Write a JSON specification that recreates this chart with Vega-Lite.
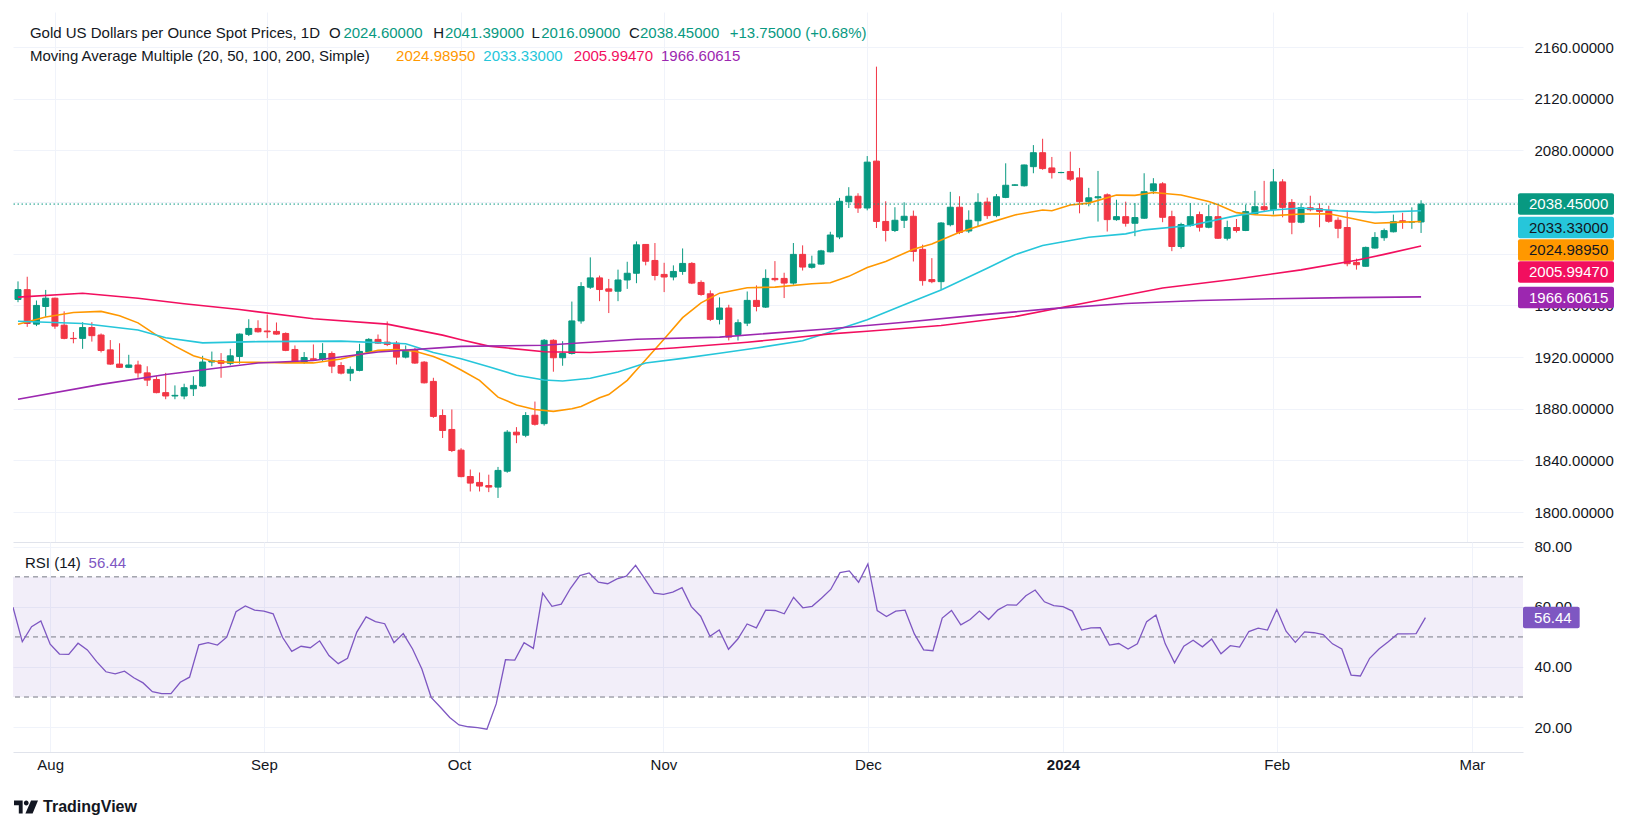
{
"$schema": "https://vega.github.io/schema/vega-lite/v6.json",
"background": "white",
"padding": {"left": 12, "top": 12, "right": 5, "bottom": 2},
"bounds": "flush",
"spacing": 0,
"config": {
  "view": {"stroke": null},
  "font": "Liberation Sans",
  "text": {"font": "Liberation Sans", "fontSize": 15},
  "axis": {"labelFont": "Liberation Sans", "labelFontSize": 15, "labelColor": "#131722", "gridColor": "#F0F3FA", "gridWidth": 1, "ticks": false, "domain": false, "zindex": 0}
},
"data": {"values": [
{"date":"2023-07-26","open":1964.6,"high":1978.6,"low":1962.5,"close":1972.2,"rsi":59.9,"sma20":1945.5,"sma50":1947.8,"sma100":1966.4,"sma200":1887.4},
{"date":"2023-07-27","open":1972.2,"high":1982.2,"low":1943.4,"close":1946,"rsi":48.4},
{"date":"2023-07-28","open":1945.5,"high":1963.8,"low":1944,"close":1960,"rsi":53.4},
{"date":"2023-07-31","open":1959.2,"high":1972,"low":1951.1,"close":1965.6,"rsi":55.3,"sma20":1951},
{"date":"2023-08-01","open":1965.6,"high":1966,"low":1941.9,"close":1944,"rsi":47.6},
{"date":"2023-08-02","open":1944.7,"high":1955.4,"low":1933.8,"close":1934.5,"rsi":44.3},
{"date":"2023-08-03","open":1934.5,"high":1939.4,"low":1930.7,"close":1934.3,"rsi":44.2,"sma20":1954.5},
{"date":"2023-08-04","open":1934.5,"high":1947,"low":1926.4,"close":1942.9,"rsi":47.9,"sma50":1946,"sma100":1969.4},
{"date":"2023-08-07","open":1942.9,"high":1947,"low":1932,"close":1936.6,"rsi":45.7},
{"date":"2023-08-08","open":1937.1,"high":1938.3,"low":1923.6,"close":1925.1,"rsi":41.8,"sma20":1955.4,"sma200":1898.9},
{"date":"2023-08-09","open":1925.6,"high":1933.2,"low":1914,"close":1914.6,"rsi":38.4},
{"date":"2023-08-10","open":1914.6,"high":1930.7,"low":1911.6,"close":1912.1,"rsi":37.7,"sma20":1952},
{"date":"2023-08-11","open":1912.1,"high":1921.8,"low":1911.5,"close":1913.9,"rsi":38.6},
{"date":"2023-08-14","open":1913.9,"high":1917.2,"low":1904,"close":1907.8,"rsi":36.4,"sma20":1946.5,"sma50":1941,"sma100":1965.6},
{"date":"2023-08-15","open":1907.8,"high":1912.9,"low":1897.6,"close":1902.2,"rsi":34.7},
{"date":"2023-08-16","open":1902.7,"high":1905.2,"low":1892,"close":1892.5,"rsi":31.8,"sma20":1937},
{"date":"2023-08-17","open":1892.5,"high":1907.8,"low":1887.4,"close":1889.9,"rsi":31.1,"sma50":1935,"sma200":1906.5},
{"date":"2023-08-18","open":1889.9,"high":1898.1,"low":1887.4,"close":1890.4,"rsi":31.1,"sma20":1928.5},
{"date":"2023-08-21","open":1889.9,"high":1899.4,"low":1887.4,"close":1896.3,"rsi":34.9,"sma100":1961.3},
{"date":"2023-08-22","open":1895.5,"high":1905.2,"low":1889.9,"close":1898.1,"rsi":36.6,"sma20":1921},
{"date":"2023-08-23","open":1897.6,"high":1921,"low":1897,"close":1916.2,"rsi":47.4,"sma50":1931},
{"date":"2023-08-24","open":1916.2,"high":1924.3,"low":1912.9,"close":1917.2,"rsi":48.1,"sma20":1917},
{"date":"2023-08-25","open":1917.2,"high":1923.1,"low":1904,"close":1915.2,"rsi":47.3},
{"date":"2023-08-28","open":1915.2,"high":1926.4,"low":1913.6,"close":1921,"rsi":49.9,"sma20":1916},
{"date":"2023-08-29","open":1920.5,"high":1938.3,"low":1914.9,"close":1937.8,"rsi":58.4,"sma100":1956.8},
{"date":"2023-08-30","open":1937.6,"high":1949.3,"low":1936.3,"close":1942.2,"rsi":60.3},
{"date":"2023-08-31","open":1942.2,"high":1948.5,"low":1939,"close":1939.6,"rsi":58.9,"sma20":1916,"sma50":1932,"sma200":1915.4},
{"date":"2023-09-01","open":1940.2,"high":1953,"low":1934.7,"close":1939.6,"rsi":58.6},
{"date":"2023-09-04","open":1939.9,"high":1946.8,"low":1937.3,"close":1937.8,"rsi":57.7},
{"date":"2023-09-05","open":1938.3,"high":1939.1,"low":1924.6,"close":1925.2,"rsi":49.9,"sma20":1915.5},
{"date":"2023-09-06","open":1925.9,"high":1929,"low":1915.4,"close":1915.9,"rsi":45.2},
{"date":"2023-09-07","open":1916.1,"high":1923.9,"low":1914.8,"close":1919.7,"rsi":46.9},
{"date":"2023-09-08","open":1918.7,"high":1929.8,"low":1917.4,"close":1917.9,"rsi":46.4,"sma20":1915.5,"sma100":1949.7,"sma200":1917.4},
{"date":"2023-09-11","open":1918.2,"high":1930.8,"low":1916.9,"close":1922.8,"rsi":48.7},
{"date":"2023-09-12","open":1922.8,"high":1924.4,"low":1907.6,"close":1913,"rsi":43.8},
{"date":"2023-09-13","open":1913.5,"high":1916.1,"low":1906.6,"close":1907.6,"rsi":41.1,"sma20":1918.5,"sma50":1932.4},
{"date":"2023-09-14","open":1907.6,"high":1912.8,"low":1901.4,"close":1910.5,"rsi":42.9},
{"date":"2023-09-15","open":1909.7,"high":1930.3,"low":1909,"close":1924.4,"rsi":51.6,"sma20":1922},
{"date":"2023-09-18","open":1923.9,"high":1934.7,"low":1923,"close":1933.7,"rsi":56.7},
{"date":"2023-09-19","open":1933.7,"high":1937.5,"low":1930.3,"close":1930.8,"rsi":55.1,"sma20":1925.2,"sma200":1923.9},
{"date":"2023-09-20","open":1931.6,"high":1947.6,"low":1928.5,"close":1929.8,"rsi":54.4,"sma100":1945.5},
{"date":"2023-09-21","open":1930.8,"high":1932.4,"low":1914.3,"close":1920,"rsi":48.1,"sma20":1925.8},
{"date":"2023-09-22","open":1920,"high":1929,"low":1919,"close":1925.2,"rsi":51.1,"sma50":1930.3},
{"date":"2023-09-25","open":1925.2,"high":1927.2,"low":1914.8,"close":1915.4,"rsi":46,"sma20":1924.5},
{"date":"2023-09-26","open":1916.1,"high":1916.9,"low":1899.6,"close":1900.1,"rsi":39.3},
{"date":"2023-09-27","open":1901.2,"high":1904,"low":1873,"close":1874.1,"rsi":29.9,"sma20":1920.5,"sma50":1923.5},
{"date":"2023-09-28","open":1874.8,"high":1879.5,"low":1857.4,"close":1863.2,"rsi":26.6,"sma20":1917.5,"sma100":1937},
{"date":"2023-09-29","open":1864,"high":1879.5,"low":1846.5,"close":1847.7,"rsi":23.2},
{"date":"2023-10-02","open":1848,"high":1849.5,"low":1827,"close":1827.5,"rsi":20.7,"sma20":1910,"sma50":1918.7,"sma100":1933.5,"sma200":1928.3},
{"date":"2023-10-03","open":1827.6,"high":1833,"low":1816,"close":1822.5,"rsi":20.1},
{"date":"2023-10-04","open":1823,"high":1830.7,"low":1816,"close":1820.2,"rsi":19.8,"sma20":1902},
{"date":"2023-10-05","open":1820.6,"high":1829,"low":1815.5,"close":1819.4,"rsi":19.3,"sma50":1912.6,"sma100":1928.5},
{"date":"2023-10-06","open":1819.4,"high":1835,"low":1811,"close":1832.3,"rsi":27.7,"sma20":1889},
{"date":"2023-10-09","open":1831.7,"high":1863.5,"low":1830.5,"close":1861.9,"rsi":42.4},
{"date":"2023-10-10","open":1861.9,"high":1865.8,"low":1853.4,"close":1859.8,"rsi":42.3,"sma20":1883,"sma50":1906},
{"date":"2023-10-11","open":1859.5,"high":1877.4,"low":1858,"close":1874.8,"rsi":48.1},
{"date":"2023-10-12","open":1875,"high":1885.6,"low":1867,"close":1868,"rsi":46.2,"sma20":1879.5},
{"date":"2023-10-13","open":1868.5,"high":1934,"low":1867,"close":1933,"rsi":64.6,"sma50":1902.3,"sma100":1924.1,"sma200":1929.2},
{"date":"2023-10-16","open":1933,"high":1933.8,"low":1908.7,"close":1919.5,"rsi":60.2,"sma20":1878},
{"date":"2023-10-17","open":1919.5,"high":1932.3,"low":1913.3,"close":1922.8,"rsi":60.9,"sma50":1901.5},
{"date":"2023-10-18","open":1922.8,"high":1963,"low":1922,"close":1948,"rsi":66.2,"sma20":1880},
{"date":"2023-10-19","open":1948,"high":1978,"low":1945.9,"close":1974.6,"rsi":70.4,"sma20":1881.8},
{"date":"2023-10-20","open":1974.1,"high":1997.2,"low":1972.8,"close":1981.3,"rsi":71.3,"sma50":1903.6,"sma100":1923.6},
{"date":"2023-10-23","open":1981.3,"high":1983.1,"low":1963.3,"close":1972.3,"rsi":68.2,"sma20":1888.5},
{"date":"2023-10-24","open":1972.8,"high":1980.5,"low":1954.1,"close":1971,"rsi":67.7,"sma20":1891},
{"date":"2023-10-25","open":1971,"high":1987.7,"low":1963.3,"close":1979.7,"rsi":69.3,"sma50":1908.5},
{"date":"2023-10-26","open":1979.7,"high":1993.8,"low":1972.8,"close":1984.9,"rsi":70.2,"sma20":1902},
{"date":"2023-10-27","open":1984.9,"high":2009.5,"low":1977.2,"close":2006.9,"rsi":73.8,"sma20":1910,"sma100":1925.3,"sma200":1933.8},
{"date":"2023-10-30","open":2007.2,"high":2007.5,"low":1991,"close":1994.2,"rsi":69.3,"sma20":1918,"sma50":1915.5},
{"date":"2023-10-31","open":1994.8,"high":2008.3,"low":1979.4,"close":1983.2,"rsi":64.6},
{"date":"2023-11-01","open":1984,"high":1993,"low":1970.3,"close":1982,"rsi":64.2,"sma20":1934},
{"date":"2023-11-02","open":1982,"high":1991,"low":1979.4,"close":1986.3,"rsi":64.9,"sma100":1927},
{"date":"2023-11-03","open":1986.3,"high":2004.1,"low":1983.7,"close":1992.5,"rsi":66.4,"sma20":1950.5,"sma50":1919},
{"date":"2023-11-06","open":1992.5,"high":1993.5,"low":1976.5,"close":1977.3,"rsi":60.1},
{"date":"2023-11-07","open":1977.8,"high":1979.4,"low":1967.5,"close":1968.5,"rsi":56.9,"sma20":1962},
{"date":"2023-11-08","open":1969,"high":1971.6,"low":1947.9,"close":1949.2,"rsi":50.2},
{"date":"2023-11-09","open":1949.2,"high":1966.2,"low":1945.3,"close":1958,"rsi":52.3,"sma20":1969.5,"sma50":1923,"sma200":1935.5},
{"date":"2023-11-10","open":1958,"high":1960.5,"low":1932.9,"close":1935.5,"rsi":45.9},
{"date":"2023-11-13","open":1937.5,"high":1949.2,"low":1932.9,"close":1946.6,"rsi":49.3},
{"date":"2023-11-14","open":1946.3,"high":1970.8,"low":1944,"close":1963.9,"rsi":54.3,"sma20":1973.7,"sma100":1931.5},
{"date":"2023-11-15","open":1963.9,"high":1975.5,"low":1955.4,"close":1959.2,"rsi":53,"sma50":1927},
{"date":"2023-11-16","open":1958.7,"high":1987.9,"low":1958,"close":1980.9,"rsi":58.9},
{"date":"2023-11-17","open":1980.9,"high":1994.3,"low":1978.6,"close":1979.9,"rsi":58.8,"sma20":1974.2},
{"date":"2023-11-20","open":1980.9,"high":1985.3,"low":1965.7,"close":1977.3,"rsi":57.7},
{"date":"2023-11-21","open":1977.3,"high":2008.3,"low":1976,"close":1999.5,"rsi":63.2,"sma100":1935},
{"date":"2023-11-22","open":1999.5,"high":2006.5,"low":1987,"close":1989.7,"rsi":59.7,"sma50":1932.7},
{"date":"2023-11-23","open":1989.5,"high":1998.5,"low":1988.5,"close":1992,"rsi":60.2,"sma20":1976.8},
{"date":"2023-11-24","open":1992,"high":2003,"low":1991.5,"close":2002.2,"rsi":62.9},
{"date":"2023-11-27","open":2001.5,"high":2017,"low":2001,"close":2014.5,"rsi":65.8,"sma20":1977.5,"sma50":1939.4,"sma100":1938,"sma200":1942},
{"date":"2023-11-28","open":2013,"high":2043.2,"low":2011.3,"close":2040.6,"rsi":71.4},
{"date":"2023-11-29","open":2040.2,"high":2051.5,"low":2035.4,"close":2044.5,"rsi":72,"sma20":1982.5},
{"date":"2023-11-30","open":2044.5,"high":2046.8,"low":2031.6,"close":2035.4,"rsi":68.2},
{"date":"2023-12-01","open":2035.4,"high":2075.6,"low":2033.6,"close":2070.9,"rsi":74.3,"sma20":1989.3,"sma50":1949,"sma100":1940},
{"date":"2023-12-04","open":2071.7,"high":2144.8,"low":2019.9,"close":2025,"rsi":58.8},
{"date":"2023-12-05","open":2025,"high":2040.6,"low":2009.5,"close":2018,"rsi":56.8,"sma20":1994},
{"date":"2023-12-06","open":2018,"high":2036,"low":2016.8,"close":2025.9,"rsi":58.6},
{"date":"2023-12-07","open":2025.9,"high":2039.8,"low":2019.9,"close":2029,"rsi":58.9,"sma50":1960.5,"sma200":1947},
{"date":"2023-12-08","open":2029,"high":2033.4,"low":1994,"close":2001.8,"rsi":51,"sma20":2003.5},
{"date":"2023-12-11","open":2003.4,"high":2007,"low":1975.3,"close":1979.2,"rsi":45.7},
{"date":"2023-12-12","open":1980,"high":1996.6,"low":1977.2,"close":1978.4,"rsi":45.4,"sma20":2007.5},
{"date":"2023-12-13","open":1978.4,"high":2024.5,"low":1972,"close":2023.8,"rsi":56.3,"sma50":1972,"sma100":1944.5},
{"date":"2023-12-14","open":2022.5,"high":2047.9,"low":2021.2,"close":2036,"rsi":58.8},
{"date":"2023-12-15","open":2036,"high":2044.5,"low":2015.2,"close":2016.5,"rsi":54,"sma20":2016.7},
{"date":"2023-12-18","open":2017.6,"high":2033.6,"low":2016,"close":2025.9,"rsi":55.8},
{"date":"2023-12-19","open":2025.5,"high":2046.8,"low":2021.2,"close":2039.8,"rsi":58.6,"sma200":1952.5},
{"date":"2023-12-20","open":2040,"high":2043.4,"low":2027,"close":2029.5,"rsi":55.8,"sma20":2023.5,"sma50":1988.8},
{"date":"2023-12-21","open":2029.5,"high":2046.2,"low":2028.2,"close":2044.1,"rsi":59},
{"date":"2023-12-22","open":2043.6,"high":2070,"low":2043,"close":2053,"rsi":60.7},
{"date":"2023-12-25","open":2053,"high":2053.8,"low":2052.6,"close":2053.3,"rsi":60.6,"sma20":2030,"sma50":1999.2,"sma100":1951.4},
{"date":"2023-12-26","open":2052.6,"high":2069,"low":2052,"close":2068.7,"rsi":63.7},
{"date":"2023-12-27","open":2067.4,"high":2084.1,"low":2062.3,"close":2078.2,"rsi":65.6},
{"date":"2023-12-28","open":2078.2,"high":2089,"low":2065,"close":2065.9,"rsi":61.7,"sma20":2033.8,"sma50":2006.4},
{"date":"2023-12-29","open":2066.4,"high":2074.9,"low":2058.2,"close":2062.8,"rsi":60.4,"sma20":2033.3,"sma200":1957.5},
{"date":"2024-01-01","open":2062.8,"high":2063.4,"low":2062.3,"close":2062.9,"rsi":60.1},
{"date":"2024-01-02","open":2063.6,"high":2079,"low":2056.2,"close":2057.7,"rsi":58.6,"sma20":2037.7,"sma50":2010.3},
{"date":"2024-01-03","open":2058.7,"high":2066.4,"low":2031.3,"close":2040.3,"rsi":52.3},
{"date":"2024-01-04","open":2040.3,"high":2051,"low":2036.7,"close":2043.3,"rsi":53,"sma20":2039.2,"sma50":2012.8,"sma100":1962.5},
{"date":"2024-01-05","open":2043.3,"high":2064.1,"low":2024.9,"close":2044.1,"rsi":53.1},
{"date":"2024-01-08","open":2045.6,"high":2046.7,"low":2017.2,"close":2026.4,"rsi":47.3},
{"date":"2024-01-09","open":2026.4,"high":2041.8,"low":2025.5,"close":2028.7,"rsi":47.8,"sma20":2045.4},
{"date":"2024-01-10","open":2028.7,"high":2040.3,"low":2021,"close":2023.6,"rsi":46,"sma50":2015.4,"sma200":1961.5},
{"date":"2024-01-11","open":2023.6,"high":2039.2,"low":2013.6,"close":2028,"rsi":47.7,"sma20":2045.2},
{"date":"2024-01-12","open":2027.5,"high":2062.3,"low":2027,"close":2048,"rsi":55.1,"sma50":2018.5},
{"date":"2024-01-15","open":2048.7,"high":2058.5,"low":2046.2,"close":2054.1,"rsi":57.3,"sma20":2047.4},
{"date":"2024-01-16","open":2054.1,"high":2055.4,"low":2024.4,"close":2028.2,"rsi":47.7,"sma100":1973.5},
{"date":"2024-01-17","open":2028.7,"high":2033.3,"low":2002,"close":2005.6,"rsi":41.4},
{"date":"2024-01-18","open":2005.6,"high":2024,"low":2004,"close":2022.6,"rsi":46.9,"sma20":2045.5},
{"date":"2024-01-19","open":2021.8,"high":2039.2,"low":2021,"close":2028.7,"rsi":48.9,"sma50":2021.8},
{"date":"2024-01-22","open":2030.3,"high":2032.6,"low":2017.2,"close":2020.5,"rsi":46.7,"sma200":1963.8},
{"date":"2024-01-23","open":2020.5,"high":2037.9,"low":2019.7,"close":2028.7,"rsi":49.3,"sma20":2040.5},
{"date":"2024-01-24","open":2028.7,"high":2037.2,"low":2011.5,"close":2012,"rsi":44.4,"sma20":2038},
{"date":"2024-01-25","open":2012,"high":2025.6,"low":2010.3,"close":2020.3,"rsi":47.1},
{"date":"2024-01-26","open":2020.3,"high":2026.9,"low":2016.4,"close":2018,"rsi":46.6,"sma20":2031.8,"sma50":2029.5,"sma100":1980.5},
{"date":"2024-01-29","open":2018,"high":2038,"low":2017.5,"close":2032.6,"rsi":51.8},
{"date":"2024-01-30","open":2030.8,"high":2048.7,"low":2030,"close":2036.4,"rsi":52.9,"sma20":2030.2},
{"date":"2024-01-31","open":2036.4,"high":2056.4,"low":2032.8,"close":2034.1,"rsi":52.3},
{"date":"2024-02-01","open":2034.1,"high":2065.6,"low":2030.3,"close":2055.6,"rsi":59.1,"sma20":2029.5,"sma50":2033.8,"sma200":1965.2},
{"date":"2024-02-02","open":2055.6,"high":2057.7,"low":2028.2,"close":2035.9,"rsi":51.9},
{"date":"2024-02-05","open":2039.7,"high":2042.3,"low":2015.1,"close":2024.4,"rsi":48.2},
{"date":"2024-02-06","open":2024.4,"high":2039,"low":2023.6,"close":2035.6,"rsi":51.7,"sma20":2030.8,"sma50":2035.4,"sma100":1987.5},
{"date":"2024-02-07","open":2035.6,"high":2044.9,"low":2032.8,"close":2034.1,"rsi":51.4},
{"date":"2024-02-08","open":2034.9,"high":2039,"low":2020.5,"close":2032.8,"rsi":50.8},
{"date":"2024-02-09","open":2033.3,"high":2037.2,"low":2024,"close":2025.1,"rsi":47.7,"sma20":2031},
{"date":"2024-02-12","open":2025.9,"high":2028.2,"low":2012,"close":2019.7,"rsi":46,"sma50":2033.3},
{"date":"2024-02-13","open":2020.3,"high":2033.3,"low":1990.3,"close":1992.3,"rsi":37.3,"sma20":2028,"sma200":1966},
{"date":"2024-02-14","open":1993.3,"high":1996.2,"low":1987.7,"close":1991.5,"rsi":37,"sma100":1995},
{"date":"2024-02-15","open":1990.3,"high":2005.5,"low":1990,"close":2004.9,"rsi":42.9},
{"date":"2024-02-16","open":2004.4,"high":2016.7,"low":2004,"close":2012.6,"rsi":46,"sma20":2023.6,"sma50":2032},
{"date":"2024-02-19","open":2012.4,"high":2019.5,"low":2010,"close":2017.9,"rsi":48.4,"sma100":1999.5},
{"date":"2024-02-20","open":2017,"high":2030.3,"low":2016.5,"close":2024.8,"rsi":51},
{"date":"2024-02-21","open":2025.5,"high":2031.7,"low":2019.3,"close":2024.8,"rsi":51,"sma20":2024.5},
{"date":"2024-02-22","open":2024.5,"high":2035.9,"low":2019.3,"close":2024.6,"rsi":51.1},
{"date":"2024-02-23","open":2024.6,"high":2041.39,"low":2016.09,"close":2038.45,"rsi":56.44,"sma20":2024.9895,"sma50":2033.33,"sma100":2005.9947,"sma200":1966.60615}
]},
"transform": [{"window": [{"op": "row_number", "as": "bar"}], "sort": [{"field": "date"}]}],
"vconcat": [
{
  "width": 1510,
  "height": 530,
  "layer": [
    {
      "mark": {"type": "rule", "strokeWidth": 1, "clip": true},
      "encoding": {
        "x": {"field": "bar", "type": "quantitative", "title": null, "scale": {"domain": [1, 163.5], "nice": false, "zero": false},
              "axis": {"orient": "bottom", "values": [5, 28, 49, 71, 93, 114, 137, 158], "labels": false, "grid": true, "domain": true, "domainColor": "#E0E3EB", "domainWidth": 1}},
        "y": {"field": "low", "type": "quantitative", "title": null, "scale": {"domain": [1776.9, 2187.1], "nice": false, "zero": false},
              "axis": {"orient": "right", "values": [1800, 1840, 1880, 1920, 1960, 2000, 2040, 2080, 2120, 2160], "format": ".5f", "labelPadding": 11, "grid": true,
                       "labelExpr": "datum.value==2040||datum.value==2000?'':datum.label"}},
        "y2": {"field": "high"},
        "color": {"condition": {"test": "datum.close >= datum.open", "value": "#089981"}, "value": "#F23645"}
      }
    },
    {
      "mark": {"type": "bar", "size": 6, "strokeWidth": 1, "clip": true},
      "encoding": {
        "x": {"field": "bar", "type": "quantitative", "title": null},
        "y": {"field": "open", "type": "quantitative", "title": null},
        "y2": {"field": "close"},
        "color": {"condition": {"test": "datum.close >= datum.open", "value": "#089981"}, "value": "#F23645"},
        "stroke": {"condition": {"test": "datum.close >= datum.open", "value": "#089981"}, "value": "#F23645"}
      }
    },
    {
      "transform": [{"fold": ["sma20", "sma50", "sma100", "sma200"], "as": ["ma", "value"]}, {"filter": "isValid(datum.value)"}],
      "mark": {"type": "line", "strokeWidth": 1.6, "clip": true},
      "encoding": {
        "x": {"field": "bar", "type": "quantitative", "title": null},
        "y": {"field": "value", "type": "quantitative", "title": null},
        "color": {"field": "ma", "type": "nominal", "scale": {"domain": ["sma20", "sma50", "sma100", "sma200"], "range": ["#FF9800", "#26C6DA", "#F20F5F", "#9C27B0"]}, "legend": null},
        "order": {"field": "bar", "type": "quantitative"}
      }
    },
    {
      "data": {"values": [{}]},
      "mark": {"type": "rule", "color": "#089981", "strokeWidth": 1, "strokeDash": [1.5, 2.5]},
      "encoding": {"y": {"datum": 2038.45, "type": "quantitative"}}
    },
    {"data": {"values": [{}]}, "mark": {"type": "text", "text": "Gold US Dollars per Ounce Spot Prices, 1D", "align": "left", "baseline": "middle", "color": "#131722"},
     "encoding": {"x": {"datum": 2.29, "type": "quantitative"}, "y": {"datum": 2171.2, "type": "quantitative"}}},
    {"data": {"values": [{}]}, "mark": {"type": "text", "text": "O", "align": "left", "baseline": "middle", "color": "#131722"},
     "encoding": {"x": {"datum": 34.69, "type": "quantitative"}, "y": {"datum": 2171.2, "type": "quantitative"}}},
    {"data": {"values": [{}]}, "mark": {"type": "text", "text": "2024.60000", "align": "left", "baseline": "middle", "color": "#089981"},
     "encoding": {"x": {"datum": 36.25, "type": "quantitative"}, "y": {"datum": 2171.2, "type": "quantitative"}}},
    {"data": {"values": [{}]}, "mark": {"type": "text", "text": "H", "align": "left", "baseline": "middle", "color": "#131722"},
     "encoding": {"x": {"datum": 45.98, "type": "quantitative"}, "y": {"datum": 2171.2, "type": "quantitative"}}},
    {"data": {"values": [{}]}, "mark": {"type": "text", "text": "2041.39000", "align": "left", "baseline": "middle", "color": "#089981"},
     "encoding": {"x": {"datum": 47.25, "type": "quantitative"}, "y": {"datum": 2171.2, "type": "quantitative"}}},
    {"data": {"values": [{}]}, "mark": {"type": "text", "text": "L", "align": "left", "baseline": "middle", "color": "#131722"},
     "encoding": {"x": {"datum": 56.64, "type": "quantitative"}, "y": {"datum": 2171.2, "type": "quantitative"}}},
    {"data": {"values": [{}]}, "mark": {"type": "text", "text": "2016.09000", "align": "left", "baseline": "middle", "color": "#089981"},
     "encoding": {"x": {"datum": 57.68, "type": "quantitative"}, "y": {"datum": 2171.2, "type": "quantitative"}}},
    {"data": {"values": [{}]}, "mark": {"type": "text", "text": "C", "align": "left", "baseline": "middle", "color": "#131722"},
     "encoding": {"x": {"datum": 67.19, "type": "quantitative"}, "y": {"datum": 2171.2, "type": "quantitative"}}},
    {"data": {"values": [{}]}, "mark": {"type": "text", "text": "2038.45000", "align": "left", "baseline": "middle", "color": "#089981"},
     "encoding": {"x": {"datum": 68.38, "type": "quantitative"}, "y": {"datum": 2171.2, "type": "quantitative"}}},
    {"data": {"values": [{}]}, "mark": {"type": "text", "text": "+13.75000 (+0.68%)", "align": "left", "baseline": "middle", "color": "#089981"},
     "encoding": {"x": {"datum": 78.1, "type": "quantitative"}, "y": {"datum": 2171.2, "type": "quantitative"}}},
    {"data": {"values": [{}]}, "mark": {"type": "text", "text": "Moving Average Multiple (20, 50, 100, 200, Simple)", "align": "left", "baseline": "middle", "color": "#131722"},
     "encoding": {"x": {"datum": 2.29, "type": "quantitative"}, "y": {"datum": 2153.4, "type": "quantitative"}}},
    {"data": {"values": [{}]}, "mark": {"type": "text", "text": "2024.98950", "align": "left", "baseline": "middle", "color": "#FF9800"},
     "encoding": {"x": {"datum": 41.96, "type": "quantitative"}, "y": {"datum": 2153.4, "type": "quantitative"}}},
    {"data": {"values": [{}]}, "mark": {"type": "text", "text": "2033.33000", "align": "left", "baseline": "middle", "color": "#26C6DA"},
     "encoding": {"x": {"datum": 51.41, "type": "quantitative"}, "y": {"datum": 2153.4, "type": "quantitative"}}},
    {"data": {"values": [{}]}, "mark": {"type": "text", "text": "2005.99470", "align": "left", "baseline": "middle", "color": "#F20F5F"},
     "encoding": {"x": {"datum": 61.21, "type": "quantitative"}, "y": {"datum": 2153.4, "type": "quantitative"}}},
    {"data": {"values": [{}]}, "mark": {"type": "text", "text": "1966.60615", "align": "left", "baseline": "middle", "color": "#9C27B0"},
     "encoding": {"x": {"datum": 70.66, "type": "quantitative"}, "y": {"datum": 2153.4, "type": "quantitative"}}},
    {"data": {"values": [{}]}, "mark": {"type": "rect", "color": "#089981", "cornerRadius": 2},
     "encoding": {"x": {"datum": 163.5, "type": "quantitative"}, "x2": {"datum": 173.9}, "y": {"datum": 2030.2, "type": "quantitative"}, "y2": {"datum": 2046.8}}},
    {"data": {"values": [{}]}, "mark": {"type": "rect", "color": "#26C6DA", "cornerRadius": 2},
     "encoding": {"x": {"datum": 163.5, "type": "quantitative"}, "x2": {"datum": 173.9}, "y": {"datum": 2012.0, "type": "quantitative"}, "y2": {"datum": 2028.6}}},
    {"data": {"values": [{}]}, "mark": {"type": "rect", "color": "#FF9800", "cornerRadius": 2},
     "encoding": {"x": {"datum": 163.5, "type": "quantitative"}, "x2": {"datum": 173.9}, "y": {"datum": 1994.6, "type": "quantitative"}, "y2": {"datum": 2011.2}}},
    {"data": {"values": [{}]}, "mark": {"type": "rect", "color": "#F20F5F", "cornerRadius": 2},
     "encoding": {"x": {"datum": 163.5, "type": "quantitative"}, "x2": {"datum": 173.9}, "y": {"datum": 1977.6, "type": "quantitative"}, "y2": {"datum": 1994.2}}},
    {"data": {"values": [{}]}, "mark": {"type": "rect", "color": "#9C27B0", "cornerRadius": 2},
     "encoding": {"x": {"datum": 163.5, "type": "quantitative"}, "x2": {"datum": 173.9}, "y": {"datum": 1957.8, "type": "quantitative"}, "y2": {"datum": 1974.4}}},
    {"data": {"values": [{}]}, "mark": {"type": "text", "text": "2038.45000", "align": "left", "baseline": "middle", "color": "#FFFFFF"},
     "encoding": {"x": {"datum": 164.69, "type": "quantitative"}, "y": {"datum": 2038.5, "type": "quantitative"}}},
    {"data": {"values": [{}]}, "mark": {"type": "text", "text": "2033.33000", "align": "left", "baseline": "middle", "color": "#131722"},
     "encoding": {"x": {"datum": 164.69, "type": "quantitative"}, "y": {"datum": 2020.3, "type": "quantitative"}}},
    {"data": {"values": [{}]}, "mark": {"type": "text", "text": "2024.98950", "align": "left", "baseline": "middle", "color": "#131722"},
     "encoding": {"x": {"datum": 164.69, "type": "quantitative"}, "y": {"datum": 2002.9, "type": "quantitative"}}},
    {"data": {"values": [{}]}, "mark": {"type": "text", "text": "2005.99470", "align": "left", "baseline": "middle", "color": "#FFFFFF"},
     "encoding": {"x": {"datum": 164.69, "type": "quantitative"}, "y": {"datum": 1985.9, "type": "quantitative"}}},
    {"data": {"values": [{}]}, "mark": {"type": "text", "text": "1966.60615", "align": "left", "baseline": "middle", "color": "#FFFFFF"},
     "encoding": {"x": {"datum": 164.69, "type": "quantitative"}, "y": {"datum": 1966.1, "type": "quantitative"}}}
  ]
},
{
  "width": 1510,
  "height": 210,
  "layer": [
    {"data": {"values": [{}]}, "mark": {"type": "rect", "color": "#7E57C2", "opacity": 0.1},
     "encoding": {"x": {"datum": 1, "type": "quantitative"}, "x2": {"datum": 163.5}, "y": {"datum": 30, "type": "quantitative"}, "y2": {"datum": 70}}},
    {"data": {"values": [{"level": 70}, {"level": 50}, {"level": 30}]}, "mark": {"type": "rule", "color": "#787B86", "strokeWidth": 1, "strokeDash": [5, 4]},
     "encoding": {"y": {"field": "level", "type": "quantitative", "title": null}}},
    {
      "mark": {"type": "line", "color": "#7E57C2", "strokeWidth": 1.3, "clip": true},
      "encoding": {
        "x": {"field": "bar", "type": "quantitative", "title": null, "scale": {"domain": [1, 163.5], "nice": false, "zero": false},
              "axis": {"orient": "bottom", "values": [5, 28, 49, 71, 93, 114, 137, 158], "grid": true, "domain": true, "domainColor": "#E0E3EB", "labelPadding": 5,
                       "labelExpr": "datum.value==5?'Aug':datum.value==28?'Sep':datum.value==49?'Oct':datum.value==71?'Nov':datum.value==93?'Dec':datum.value==114?'2024':datum.value==137?'Feb':'Mar'",
                       "labelFontWeight": {"condition": {"test": "datum.value==114", "value": "bold"}, "value": "normal"}}},
        "y": {"field": "rsi", "type": "quantitative", "title": null, "scale": {"domain": [11.7, 81.6], "nice": false, "zero": false},
              "axis": {"orient": "right", "values": [20, 40, 60, 80], "format": ".2f", "labelPadding": 11, "grid": true}}
      }
    },
    {"data": {"values": [{}]}, "mark": {"type": "text", "text": "RSI (14)", "align": "left", "baseline": "middle", "color": "#131722"},
     "encoding": {"x": {"datum": 2.29, "type": "quantitative"}, "y": {"datum": 74.65, "type": "quantitative"}}},
    {"data": {"values": [{}]}, "mark": {"type": "text", "text": "56.44", "align": "left", "baseline": "middle", "color": "#7E57C2"},
     "encoding": {"x": {"datum": 9.13, "type": "quantitative"}, "y": {"datum": 74.65, "type": "quantitative"}}},
    {"data": {"values": [{}]}, "mark": {"type": "rect", "color": "#7E57C2", "cornerRadius": 2},
     "encoding": {"x": {"datum": 163.5, "type": "quantitative"}, "x2": {"datum": 169.6}, "y": {"datum": 52.86, "type": "quantitative"}, "y2": {"datum": 60.02}}},
    {"data": {"values": [{}]}, "mark": {"type": "text", "text": "56.44", "align": "left", "baseline": "middle", "color": "#FFFFFF"},
     "encoding": {"x": {"datum": 164.69, "type": "quantitative"}, "y": {"datum": 56.44, "type": "quantitative"}}},
    {"data": {"values": [{}]}, "mark": {"type": "point", "shape": "M-1,-0.55H-0.28V0.55H-0.6V-0.15H-1Z M-0.18,-0.33A0.2,0.2 0 1 0 0.22,-0.33A0.2,0.2 0 1 0 -0.18,-0.33Z M0.42,-0.55H1L0.55,0.55H-0.05Z", "filled": true, "color": "#131722", "opacity": 1, "size": 576},
     "encoding": {"x": {"datum": 2.4, "type": "quantitative"}, "y": {"datum": -6.6, "type": "quantitative"}}},
    {"data": {"values": [{}]}, "mark": {"type": "text", "text": "TradingView", "align": "left", "baseline": "middle", "color": "#131722", "fontSize": 16, "fontWeight": "bold"},
     "encoding": {"x": {"datum": 4.23, "type": "quantitative"}, "y": {"datum": -6.6, "type": "quantitative"}}}
  ]
}
]
}
